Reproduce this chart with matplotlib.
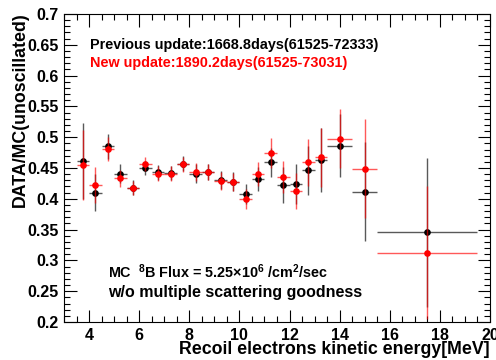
import matplotlib
matplotlib.use("Agg")
import matplotlib.pyplot as plt
from matplotlib.ticker import MultipleLocator
import numpy as np

plt.rcParams['font.family'] = ['Liberation Sans', 'DejaVu Sans']
plt.rcParams['font.weight'] = 'bold'
plt.rcParams['mathtext.fontset'] = 'custom'
plt.rcParams['mathtext.rm'] = 'Liberation Sans:bold'
plt.rcParams['mathtext.bf'] = 'Liberation Sans:bold'
plt.rcParams['mathtext.it'] = 'Liberation Sans:bold:italic'

# energy bins (MeV): centre and half width
energy = [3.75, 4.25, 4.75, 5.25, 5.75, 6.25, 6.75, 7.25, 7.75, 8.25, 8.75,
          9.25, 9.75, 10.25, 10.75, 11.25, 11.75, 12.25, 12.75, 13.25,
          14.0, 15.0, 17.5]
energy_err = [0.25] * 20 + [0.5, 0.5, 2.0]

# previous update (1668.8 days)
prev_ratio = [0.461, 0.410, 0.485, 0.441, 0.418, 0.450, 0.443, 0.442, 0.457,
              0.441, 0.444, 0.4305, 0.428, 0.408, 0.432, 0.459, 0.4224, 0.424,
              0.446, 0.4625, 0.486, 0.4115, 0.3456]
prev_err = [0.062, 0.030, 0.021, 0.016, 0.012, 0.011, 0.012, 0.012, 0.012,
            0.015, 0.013, 0.014, 0.015, 0.016, 0.019, 0.024, 0.029, 0.032,
            0.040, 0.052, 0.051, 0.080, 0.121]

# new update (1890.2 days)
new_ratio = [0.455, 0.422, 0.481, 0.433, 0.4175, 0.4565, 0.441, 0.441, 0.456,
             0.4435, 0.444, 0.429, 0.427, 0.400, 0.440, 0.474, 0.436, 0.4127,
             0.459, 0.4674, 0.4976, 0.449, 0.3125]
new_err = [0.057, 0.029, 0.020, 0.014, 0.012, 0.011, 0.012, 0.012, 0.012,
           0.014, 0.013, 0.014, 0.015, 0.016, 0.020, 0.024, 0.026, 0.029,
           0.038, 0.048, 0.048, 0.080, 0.108]


def main():
    fig = plt.figure(figsize=(4.96, 3.6), dpi=100)
    ax = fig.add_axes([64 / 496, 1 - 322 / 360, 426 / 496, 308 / 360])

    for y, yerr, col in [(prev_ratio, prev_err, 'black'), (new_ratio, new_err, 'red')]:
        eb = ax.errorbar(energy, y, xerr=energy_err, yerr=yerr, fmt='o', color=col,
                         ms=4.8, mew=0, elinewidth=1.0, capsize=3, capthick=1.0,
                         zorder=3 if col == 'black' else 4)
        for part in list(eb[1]) + list(eb[2]):
            part.set_alpha(0.65)

    ax.set_xlim(3, 20)
    ax.set_ylim(0.2, 0.7)
    ax.xaxis.set_minor_locator(MultipleLocator(0.5))
    ax.yaxis.set_minor_locator(MultipleLocator(0.01))
    ax.set_yticks(np.arange(0.2, 0.701, 0.05))
    ax.set_yticklabels(['0.2', '0.25', '0.3', '0.35', '0.4', '0.45', '0.5',
                        '0.55', '0.6', '0.65', '0.7'])
    ax.set_xticks(np.arange(4, 21, 2))
    ax.set_xticklabels([str(v) for v in range(4, 21, 2)])
    ax.tick_params(which='both', direction='in', top=True, right=True,
                   labelsize=11.5, width=0.8)
    ax.tick_params(which='major', length=9, pad=4)
    ax.tick_params(which='minor', length=4.5)
    for s in ax.spines.values():
        s.set_linewidth(0.8)

    fig.text(20 / 496, 1 - 12 / 360, 'DATA/MC(unoscillated)', rotation=90,
             ha='center', va='top', fontsize=12.8, fontweight='bold')
    fig.text(490 / 496, 1 - 350 / 360, 'Recoil electrons kinetic energy[MeV]',
             ha='right', va='center', fontsize=12.8, fontweight='bold')

    fig.text(90 / 496, 1 - 45 / 360, 'Previous update:1668.8days(61525-72333)',
             ha='left', va='center', fontsize=10.4, color='black')
    fig.text(90 / 496, 1 - 63 / 360, 'New update:1890.2days(61525-73031)',
             ha='left', va='center', fontsize=10.4, color='red')
    fig.text(108 / 496, 1 - 272 / 360,
             r'MC  $^{8}$B Flux = 5.25$\times$10$^{6}$ /cm$^{2}$/sec',
             ha='left', va='center', fontsize=10.4)
    fig.text(108 / 496, 1 - 292 / 360, 'w/o multiple scattering goodness',
             ha='left', va='center', fontsize=11.5)

    fig.savefig('out.png', dpi=100)


if __name__ == "__main__":
    main()
